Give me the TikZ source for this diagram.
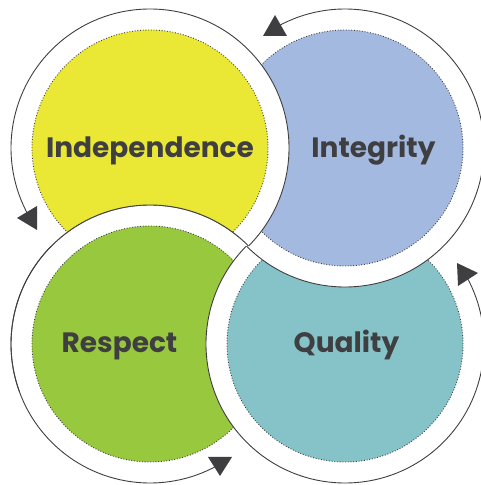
\documentclass[tikz,border=0pt]{standalone}
\usepackage{fontspec}
\setmainfont{Poppins}
\usetikzlibrary{calc}
\definecolor{cyel}{HTML}{EAE735}
\definecolor{cblu}{HTML}{A3B9E0}
\definecolor{cgrn}{HTML}{98C83E}
\definecolor{ctea}{HTML}{86C3C9}
\definecolor{ink}{HTML}{3F3F41}
\tikzset{
  ringdisk/.style={fill=white},
  outline/.style={draw=ink, line width=0.9pt},
  dotline/.style={draw=ink, line width=0.9pt, dash pattern=on 0.9pt off 1.8pt},
  arrowtri/.style={fill=ink},
  wordtxt/.style={font=\bfseries\fontsize{28}{30}\selectfont, text=ink, anchor=base, inner sep=0pt}
}
% #1 centre, #2 colour, #3 start angle, #4 end angle
\newcommand\drawunit[4]{%
  \fill[ringdisk] (#1) circle[radius=139];
  \fill[#2] (#1) circle[radius=118];
  \draw[dotline] (#1) circle[radius=118];
  \draw[outline] (#1) ++(#3:139) arc[start angle=#3, end angle=#4, radius=139];
}
\begin{document}
\begin{tikzpicture}[x=1pt,y=1pt]
\useasboundingbox (0,0) rectangle (480,485);
\coordinate (Y) at (150,337);
\coordinate (B) at (345,337);
\coordinate (G) at (150,141);
\coordinate (T) at (345,141);
% drawing order: green, teal, blue, then yellow everywhere outside green
\drawunit{G}{cgrn}{45}{299}
\drawunit{T}{ctea}{135}{389}
\drawunit{B}{cblu}{225}{479}
\begin{scope}[even odd rule]
  \clip (-10,-10) rectangle (500,500) (G) circle[radius=139];
  \drawunit{Y}{cyel}{-45}{209}
\end{scope}
\draw[outline] (G) ++(45:139) arc[start angle=45, end angle=200, radius=139];
% arrow heads
\fill[arrowtri] (17,267) -- (37,279) -- (37,255) -- cycle;
\fill[arrowtri] (275,470) -- (263,449) -- (287,449) -- cycle;
\fill[arrowtri] (478,212) -- (457,222) -- (458,199) -- cycle;
\fill[arrowtri] (220,9) -- (208,28) -- (232,28) -- cycle;
% labels
\node[wordtxt] (tY) at (150,327) {Independence};
\node[wordtxt] (tB) at (373.5,327.5) {Integrity};
\node[wordtxt] (tG) at (119.5,132) {Respect};
\node[wordtxt] (tT) at (346.5,132) {Quality};
\end{tikzpicture}
\end{document}
